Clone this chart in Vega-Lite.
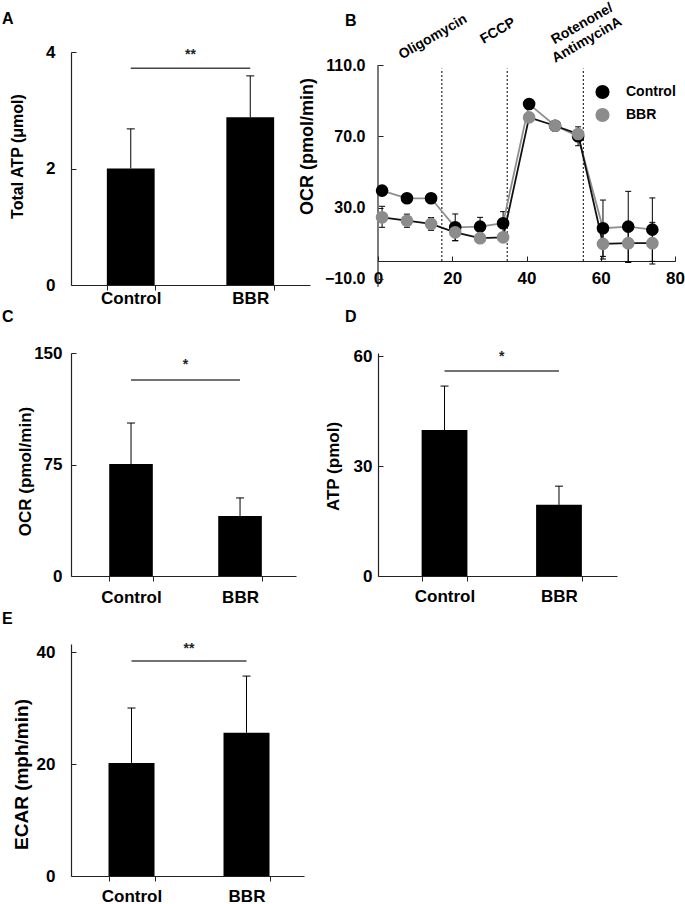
{
  "$schema": "https://vega.github.io/schema/vega-lite/v6.json",
  "background": "white",
  "padding": {"left": 2, "top": 0, "right": 0, "bottom": 0},
  "columns": 2,
  "spacing": {"row": 68, "column": 68},
  "bounds": "flush",
  "align": "each",
  "config": {
    "font": "Liberation Sans",
    "view": {"stroke": null},
    "axis": {"grid": false, "domainColor": "#222", "domainWidth": 1.2, "tickColor": "#222", "tickWidth": 1, "labelColor": "#000", "titleColor": "#000", "labelFont": "Liberation Sans", "titleFont": "Liberation Sans", "labelFontWeight": "bold", "titleFontWeight": "bold", "labelFontSize": 17, "titleFontSize": 17},
    "title": {"font": "Liberation Sans", "fontWeight": "bold", "fontSize": 16, "color": "#000"}
  },
  "concat": [
    {
      "width": 239, "height": 233,
      "title": {"text": "A", "anchor": "start", "frame": "group", "dx": -69, "offset": 16, "baseline": "top"},
      "data": {"values": [{"g": "Control", "v": 2.0, "hi": 2.68}, {"g": "BBR", "v": 2.88, "hi": 3.59}]},
      "layer": [
        {"mark": {"type": "bar", "color": "#000"},
         "encoding": {
           "x": {"field": "g", "type": "nominal", "scale": {"domain": ["Control", "BBR"], "paddingInner": 0.6, "paddingOuter": 0.3, "align": 0.5}, "axis": {"title": null, "labelAngle": 0, "tickBand": "extent", "tickSize": 5, "labelPadding": 0}},
           "y": {"field": "v", "type": "quantitative", "scale": {"domain": [0, 4], "nice": false}, "axis": {"values": [0, 2, 4], "format": "d", "tickSize": -5, "labelPadding": 21, "title": "Total ATP (μmol)", "titleFontSize": 16, "titleX": -53.5, "titleY": 104, "titleBaseline": "middle", "titleAlign": "center", "titleAngle": -90}}}},
        {"mark": {"type": "rule", "color": "#000", "strokeWidth": 1},
         "encoding": {"x": {"field": "g", "type": "nominal"}, "y": {"field": "v", "type": "quantitative"}, "y2": {"field": "hi"}}},
        {"mark": {"type": "point", "shape": "M-1,0H1", "filled": false, "color": "#000", "strokeWidth": 1, "size": 64, "opacity": 1},
         "encoding": {"x": {"field": "g", "type": "nominal"}, "y": {"field": "hi", "type": "quantitative"}}},
        {"data": {"values": [{"a": "Control", "b": "BBR", "y": 3.72, "ty": 3.95, "s": "**"}]},
         "layer": [
           {"mark": {"type": "rule", "color": "#444", "strokeWidth": 1.5},
            "encoding": {"x": {"field": "a", "type": "nominal"}, "x2": {"field": "b"}, "y": {"field": "y", "type": "quantitative"}}},
           {"mark": {"type": "text", "fontSize": 14, "fontWeight": "bold", "baseline": "middle", "color": "#222"},
            "encoding": {"x": {"field": "a", "type": "nominal", "bandPosition": 1.75}, "y": {"field": "ty", "type": "quantitative"}, "text": {"field": "s"}}}
         ]}
      ]
    },
    {
      "width": 297, "height": 233,
      "title": {"text": "B", "anchor": "start", "frame": "group", "dx": -33, "offset": -28, "baseline": "top"},
      "layer": [
        {"data": {"values": [{"x": 17.2}, {"x": 34.8}, {"x": 55.3}]},
         "mark": {"type": "rule", "color": "#000", "strokeWidth": 1, "strokeDash": [2, 2]},
         "encoding": {
           "x": {"field": "x", "type": "quantitative", "scale": {"domain": [0, 80], "nice": false}, "axis": {"values": [0, 20, 40, 60, 80], "title": null, "offset": -24, "tickSize": -5, "labelPadding": 14, "labelFlush": false}},
           "y": {"datum": 0, "type": "quantitative", "scale": {"domain": [-13.469, 117.296], "nice": false, "zero": false}, "axis": {"values": [-10, 10, 30, 50, 70, 90, 110], "format": ".1f", "domain": false, "tickSize": -5, "labelPadding": 18, "labelFontSize": 16, "title": "OCR (pmol/min)", "titleFontSize": 18, "titleX": -70.5, "titleY": 94, "titleBaseline": "middle", "titleAlign": "center", "titleAngle": -90}},
           "y2": {"datum": 108}}},
        {"data": {"values": [{}]},
         "mark": {"type": "rule", "color": "#222", "strokeWidth": 1.2},
         "encoding": {"x": {"datum": 0, "type": "quantitative"}, "y": {"datum": -14.5, "type": "quantitative"}, "y2": {"datum": 110}}},
        {"data": {"name": "ocr"},
         "layer": [
           {"mark": {"type": "rule", "color": "#000", "strokeWidth": 1},
            "encoding": {"x": {"field": "t", "type": "quantitative"}, "y": {"field": "lo", "type": "quantitative"}, "y2": {"field": "hi"}}},
           {"mark": {"type": "point", "shape": "M-1,0H1", "filled": false, "color": "#000", "strokeWidth": 1, "size": 36, "opacity": 1},
            "encoding": {"x": {"field": "t", "type": "quantitative"}, "y": {"field": "lo", "type": "quantitative"}}},
           {"mark": {"type": "point", "shape": "M-1,0H1", "filled": false, "color": "#000", "strokeWidth": 1, "size": 36, "opacity": 1},
            "encoding": {"x": {"field": "t", "type": "quantitative"}, "y": {"field": "hi", "type": "quantitative"}}},
           {"mark": {"type": "line", "strokeWidth": 1.8},
            "encoding": {"x": {"field": "t", "type": "quantitative"}, "y": {"field": "v", "type": "quantitative"}, "detail": {"field": "g"},
              "stroke": {"condition": {"test": "datum.g === 'Control'", "value": "#8f8f8f"}, "value": "#111"}}},
           {"mark": {"type": "point", "filled": true, "opacity": 1, "size": 160, "shape": "circle"},
            "encoding": {"x": {"field": "t", "type": "quantitative"}, "y": {"field": "v", "type": "quantitative"},
              "color": {"field": "g", "type": "nominal", "scale": {"domain": ["Control", "BBR"], "range": ["#000000", "#8c8c8c"]},
                "legend": {"title": null, "orient": "none", "legendX": 524, "legendY": 32.5, "symbolSize": 200, "symbolType": "circle", "symbolStrokeWidth": 0, "labelFontSize": 14, "labelFontWeight": "bold", "labelFont": "Liberation Sans", "labelColor": "#000", "rowPadding": 8, "labelOffset": 16, "padding": 0}}}}
         ]},
        {"data": {"values": [{"lab": "Oligomycin", "x": 14.8, "y": 125.7}, {"lab": "FCCP", "x": 32.3, "y": 129.1}, {"lab": "Rotenone/", "x": 55.0, "y": 133.0}, {"lab": "AntimycinA", "x": 56.3, "y": 124.0}]},
         "mark": {"type": "text", "angle": -30, "fontSize": 14, "fontWeight": "bold", "align": "center", "baseline": "middle", "color": "#000"},
         "encoding": {"x": {"field": "x", "type": "quantitative"}, "y": {"field": "y", "type": "quantitative"}, "text": {"field": "lab"}}}
      ]
    },
    {
      "width": 225, "height": 223,
      "title": {"text": "C", "anchor": "start", "frame": "group", "dx": -69, "offset": 19, "baseline": "top"},
      "data": {"values": [{"g": "Control", "v": 75.3, "hi": 102.9}, {"g": "BBR", "v": 40.4, "hi": 52.5}]},
      "layer": [
        {"mark": {"type": "bar", "color": "#000"},
         "encoding": {
           "x": {"field": "g", "type": "nominal", "scale": {"domain": ["Control", "BBR"], "paddingInner": 0.6, "paddingOuter": 0.332, "align": 0.528}, "axis": {"title": null, "labelAngle": 0, "tickBand": "extent", "tickSize": 5, "labelPadding": 8}},
           "y": {"field": "v", "type": "quantitative", "scale": {"domain": [0, 150], "nice": false}, "axis": {"values": [0, 75, 150], "format": "d", "tickSize": -5, "labelPadding": 14, "title": "OCR  (pmol/min)", "titleFontSize": 17, "titleX": -46, "titleY": 118, "titleBaseline": "middle", "titleAlign": "center", "titleAngle": -90}}}},
        {"mark": {"type": "rule", "color": "#000", "strokeWidth": 1},
         "encoding": {"x": {"field": "g", "type": "nominal"}, "y": {"field": "v", "type": "quantitative"}, "y2": {"field": "hi"}}},
        {"mark": {"type": "point", "shape": "M-1,0H1", "filled": false, "color": "#000", "strokeWidth": 1, "size": 64, "opacity": 1},
         "encoding": {"x": {"field": "g", "type": "nominal"}, "y": {"field": "hi", "type": "quantitative"}}},
        {"data": {"values": [{"a": "Control", "b": "BBR", "y": 131.8, "ty": 141.9, "s": "*"}]},
         "layer": [
           {"mark": {"type": "rule", "color": "#444", "strokeWidth": 1.5},
            "encoding": {"x": {"field": "a", "type": "nominal"}, "x2": {"field": "b"}, "y": {"field": "y", "type": "quantitative"}}},
           {"mark": {"type": "text", "fontSize": 14, "fontWeight": "bold", "baseline": "middle", "color": "#222"},
            "encoding": {"x": {"field": "a", "type": "nominal", "bandPosition": 1.75}, "y": {"field": "ty", "type": "quantitative"}, "text": {"field": "s"}}}
         ]}
      ]
    },
    {
      "width": 239, "height": 223,
      "title": {"text": "D", "anchor": "start", "frame": "group", "dx": -33, "offset": 22, "baseline": "top"},
      "data": {"values": [{"g": "Control", "v": 39.8, "hi": 51.8}, {"g": "BBR", "v": 19.4, "hi": 24.5}]},
      "layer": [
        {"mark": {"type": "bar", "color": "#000"},
         "encoding": {
           "x": {"field": "g", "type": "nominal", "scale": {"domain": ["Control", "BBR"], "paddingInner": 0.6, "paddingOuter": 0.344, "align": 0.554}, "axis": {"title": null, "labelAngle": 0, "tickBand": "extent", "tickSize": 5, "labelPadding": 7.5}},
           "y": {"field": "v", "type": "quantitative", "scale": {"domain": [0, 60.82], "nice": false}, "axis": {"values": [0, 30, 60], "format": "d", "tickSize": -5, "labelPadding": 11, "title": "ATP (pmol)", "titleFontSize": 17, "titleX": -45, "titleY": 113, "titleBaseline": "middle", "titleAlign": "center", "titleAngle": -90}}}},
        {"mark": {"type": "rule", "color": "#000", "strokeWidth": 1},
         "encoding": {"x": {"field": "g", "type": "nominal"}, "y": {"field": "v", "type": "quantitative"}, "y2": {"field": "hi"}}},
        {"mark": {"type": "point", "shape": "M-1,0H1", "filled": false, "color": "#000", "strokeWidth": 1, "size": 64, "opacity": 1},
         "encoding": {"x": {"field": "g", "type": "nominal"}, "y": {"field": "hi", "type": "quantitative"}}},
        {"data": {"values": [{"a": "Control", "b": "BBR", "y": 55.9, "ty": 59.7, "s": "*"}]},
         "layer": [
           {"mark": {"type": "rule", "color": "#444", "strokeWidth": 1.5},
            "encoding": {"x": {"field": "a", "type": "nominal"}, "x2": {"field": "b"}, "y": {"field": "y", "type": "quantitative"}}},
           {"mark": {"type": "text", "fontSize": 14, "fontWeight": "bold", "baseline": "middle", "color": "#222"},
            "encoding": {"x": {"field": "a", "type": "nominal", "bandPosition": 1.75}, "y": {"field": "ty", "type": "quantitative"}, "text": {"field": "s"}}}
         ]}
      ]
    },
    {
      "width": 233, "height": 232,
      "title": {"text": "E", "anchor": "start", "frame": "group", "dx": -69, "offset": 15, "baseline": "top"},
      "data": {"values": [{"g": "Control", "v": 20.2, "hi": 30.0}, {"g": "BBR", "v": 25.6, "hi": 35.7}]},
      "layer": [
        {"mark": {"type": "bar", "color": "#000"},
         "encoding": {
           "x": {"field": "g", "type": "nominal", "scale": {"domain": ["Control", "BBR"], "paddingInner": 0.6, "paddingOuter": 0.313, "align": 0.521}, "axis": {"title": null, "labelAngle": 0, "tickBand": "extent", "tickSize": 5, "labelPadding": 7}},
           "y": {"field": "v", "type": "quantitative", "scale": {"domain": [0, 41.43], "nice": false}, "axis": {"values": [0, 20, 40], "format": "d", "tickSize": -5, "labelPadding": 21, "title": "ECAR (mph/min)", "titleFontSize": 19, "titleX": -49.5, "titleY": 130, "titleBaseline": "middle", "titleAlign": "center", "titleAngle": -90}}}},
        {"mark": {"type": "rule", "color": "#000", "strokeWidth": 1},
         "encoding": {"x": {"field": "g", "type": "nominal"}, "y": {"field": "v", "type": "quantitative"}, "y2": {"field": "hi"}}},
        {"mark": {"type": "point", "shape": "M-1,0H1", "filled": false, "color": "#000", "strokeWidth": 1, "size": 64, "opacity": 1},
         "encoding": {"x": {"field": "g", "type": "nominal"}, "y": {"field": "hi", "type": "quantitative"}}},
        {"data": {"values": [{"a": "Control", "b": "BBR", "y": 38.4, "ty": 40.5, "s": "**"}]},
         "layer": [
           {"mark": {"type": "rule", "color": "#444", "strokeWidth": 1.5},
            "encoding": {"x": {"field": "a", "type": "nominal"}, "x2": {"field": "b"}, "y": {"field": "y", "type": "quantitative"}}},
           {"mark": {"type": "text", "fontSize": 14, "fontWeight": "bold", "baseline": "middle", "color": "#222"},
            "encoding": {"x": {"field": "a", "type": "nominal", "bandPosition": 1.75}, "y": {"field": "ty", "type": "quantitative"}, "text": {"field": "s"}}}
         ]}
      ]
    }
  ],
  "datasets": {
    "ocr": [
      {"t": 1.1, "g": "Control", "v": 39.5, "lo": 37.5, "hi": 41.5},
      {"t": 7.8, "g": "Control", "v": 35.2, "lo": 32.7, "hi": 37.7},
      {"t": 14.3, "g": "Control", "v": 35.2, "lo": 32.7, "hi": 37.7},
      {"t": 20.8, "g": "Control", "v": 18.9, "lo": 11.4, "hi": 26.4},
      {"t": 27.5, "g": "Control", "v": 19.3, "lo": 14.3, "hi": 24.5},
      {"t": 33.7, "g": "Control", "v": 21.2, "lo": 14.7, "hi": 27.7},
      {"t": 40.7, "g": "Control", "v": 88.1, "lo": 86.1, "hi": 90.1},
      {"t": 47.7, "g": "Control", "v": 75.9, "lo": 73.9, "hi": 77.9},
      {"t": 53.9, "g": "Control", "v": 70.0, "lo": 64.7, "hi": 75.3},
      {"t": 60.6, "g": "Control", "v": 18.4, "lo": 2.6, "hi": 34.2},
      {"t": 67.4, "g": "Control", "v": 19.3, "lo": -0.5, "hi": 39.1},
      {"t": 73.9, "g": "Control", "v": 17.6, "lo": -0.2, "hi": 35.4},
      {"t": 1.1, "g": "BBR", "v": 24.5, "lo": 18.9, "hi": 30.7},
      {"t": 7.8, "g": "BBR", "v": 22.6, "lo": 18.9, "hi": 26.3},
      {"t": 14.3, "g": "BBR", "v": 20.8, "lo": 17.2, "hi": 24.4},
      {"t": 20.8, "g": "BBR", "v": 16.1, "lo": 11.4, "hi": 20.8},
      {"t": 27.5, "g": "BBR", "v": 12.8, "lo": 10.8, "hi": 14.8},
      {"t": 33.7, "g": "BBR", "v": 13.3, "lo": 11.3, "hi": 15.3},
      {"t": 40.7, "g": "BBR", "v": 80.6, "lo": 78.6, "hi": 82.6},
      {"t": 47.7, "g": "BBR", "v": 75.9, "lo": 73.9, "hi": 77.9},
      {"t": 53.9, "g": "BBR", "v": 71.3, "lo": 69.3, "hi": 73.3},
      {"t": 60.6, "g": "BBR", "v": 9.6, "lo": 1.1, "hi": 18.1},
      {"t": 67.4, "g": "BBR", "v": 10.0, "lo": -0.8, "hi": 20.8},
      {"t": 73.9, "g": "BBR", "v": 10.0, "lo": -1.7, "hi": 21.7}
    ]
  }
}
